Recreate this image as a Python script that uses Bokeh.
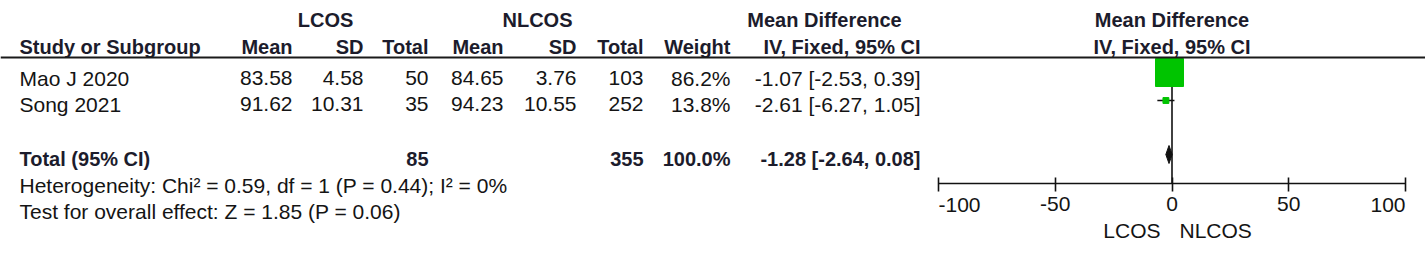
from bokeh.plotting import figure
from bokeh.models import Range1d, LinearAxis, FixedTicker, Span
from bokeh.core.properties import value
from bokeh.embed import file_html
from bokeh.resources import INLINE

# ---------------- data ----------------
studies = ["Mao J 2020", "Song 2021"]
lcos_mean = [83.58, 91.62]
lcos_sd = [4.58, 10.31]
lcos_total = [50, 35]
nlcos_mean = [84.65, 94.23]
nlcos_sd = [3.76, 10.55]
nlcos_total = [103, 252]
weights = [86.2, 13.8]
md = [-1.07, -2.61]
md_lo = [-2.53, -6.27]
md_hi = [0.39, 1.05]

total_label = "Total (95% CI)"
total_lcos = 85
total_nlcos = 355
total_weight = 100.0
total_md = -1.28
total_lo = -2.64
total_hi = 0.08

heterogeneity = "Heterogeneity: Chi\u00b2 = 0.59, df = 1 (P = 0.44); I\u00b2 = 0%"
overall = "Test for overall effect: Z = 1.85 (P = 0.06)"

group_labels = ["LCOS", "NLCOS"]
col_headers = ["Mean", "SD", "Total", "Mean", "SD", "Total", "Weight", "IV, Fixed, 95% CI"]
axis_ticks = [-100, -50, 0, 50, 100]
favours = ["LCOS", "NLCOS"]

# ---------------- layout ----------------
W, H = 1425, 254
FONT = "Liberation Sans"
FS_B = "20px"
FS_N = "21px"
TXT = "#141414"
BOLD = "#1c1c2c"
GREEN = "#00c400"
ZERO_X = 1171.5
PX = 2.335  # pixels per unit of mean difference

p = figure(width=W, height=H, x_range=Range1d(0, W), y_range=Range1d(H, 0),
           output_backend="svg", toolbar_location=None, x_axis_type=None, y_axis_type=None,
           min_border=0, outline_line_color=None, background_fill_color="white")
p.extra_x_ranges = {"md": Range1d((0 - ZERO_X) / PX, (W - ZERO_X) / PX)}


def txt(xs, ys, texts, align="left", bold=False, rng="default"):
    p.text(x=xs, y=ys, text=texts, text_align=align, text_baseline="middle",
           text_font=value(FONT), text_font_size=FS_B if bold else FS_N,
           text_font_style="bold" if bold else "normal",
           text_color=BOLD if bold else TXT, x_range_name=rng)


# row centres
Y_H1, Y_H2 = 19.5, 46.5
row_y = [77.5, 103.5]
Y_TOT, Y_HET, Y_TEST = 158.5, 184.5, 211
STUDY_X = 19
col_right = [292, 363, 428, 503, 576, 643, 730, 920]

# headers
txt([325, 537], [Y_H1, Y_H1], group_labels, align="center", bold=True)
txt([824], [Y_H1], ["Mean Difference"], align="center", bold=True)
txt([ZERO_X], [Y_H1], ["Mean Difference"], align="center", bold=True)
txt([STUDY_X], [Y_H2], ["Study or Subgroup"], bold=True)
txt(col_right, [Y_H2] * len(col_right), col_headers, align="right", bold=True)
txt([ZERO_X], [Y_H2], ["IV, Fixed, 95% CI"], align="center", bold=True)

p.add_layout(Span(location=57, dimension="width", line_color="#1a1a1a", line_width=2))

# study rows
txt([STUDY_X] * len(studies), row_y, studies)
columns = [
    [f"{v:.2f}" for v in lcos_mean],
    [f"{v:.2f}" for v in lcos_sd],
    [str(v) for v in lcos_total],
    [f"{v:.2f}" for v in nlcos_mean],
    [f"{v:.2f}" for v in nlcos_sd],
    [str(v) for v in nlcos_total],
    [f"{v:.1f}%" for v in weights],
    [f"{m:.2f} [{lo:.2f}, {hi:.2f}]" for m, lo, hi in zip(md, md_lo, md_hi)],
]
for cx, vals in zip(col_right, columns):
    txt([cx] * len(vals), row_y, vals, align="right")

# total row
txt([STUDY_X], [Y_TOT], [total_label], bold=True)
tot_vals = [str(total_lcos), str(total_nlcos), f"{total_weight:.1f}%",
            f"{total_md:.2f} [{total_lo:.2f}, {total_hi:.2f}]"]
txt([col_right[2], col_right[5], col_right[6], col_right[7]], [Y_TOT] * 4, tot_vals,
    align="right", bold=True)
txt([STUDY_X, STUDY_X], [Y_HET, Y_TEST], [heterogeneity, overall])

# ---------------- forest plot ----------------
AXIS_Y = 183
mark_y = [72, 100]
sizes = [28 * (w / max(weights)) ** 0.85 for w in weights]

p.segment(x0=[0], y0=[57], x1=[0], y1=[AXIS_Y], x_range_name="md",
          line_color="#111111", line_width=1.6)
p.segment(x0=md_lo, y0=mark_y, x1=md_hi, y1=mark_y, x_range_name="md",
          line_color="#111111", line_width=1.6)
p.scatter(x=md, y=mark_y, size=sizes, marker="square", fill_color=GREEN,
          line_color=GREEN, x_range_name="md")
dy = 154
p.patch(x=[total_lo, total_md, total_hi, total_md], y=[dy, dy - 9, dy, dy + 9],
        x_range_name="md", fill_color="#111111", line_color="#111111")

ax = LinearAxis(x_range_name="md", ticker=FixedTicker(ticks=axis_ticks), fixed_location=AXIS_Y,
                bounds=(axis_ticks[0], axis_ticks[-1]), major_tick_in=6, major_tick_out=8,
                minor_tick_line_color=None, axis_line_width=1.6, major_tick_line_width=1.6,
                axis_line_color="#111111", major_tick_line_color="#111111",
                major_label_text_font=FONT, major_label_text_font_size=FS_N,
                major_label_text_color=TXT, major_label_standoff=5,
                major_label_overrides={t: ("" if t in (axis_ticks[0], axis_ticks[-1]) else str(t))
                                       for t in axis_ticks})
p.add_layout(ax, "below")
# end tick labels are aligned inward, as in the reference
txt([axis_ticks[0]], [204], [str(axis_ticks[0])], align="left", rng="md")
txt([axis_ticks[-1]], [204], [str(axis_ticks[-1])], align="right", rng="md")

txt([ZERO_X - 11.5], [230], [favours[0]], align="right")
txt([ZERO_X + 7.5], [230], [favours[1]], align="left")

open("out.html", "w").write(file_html(p, INLINE))
